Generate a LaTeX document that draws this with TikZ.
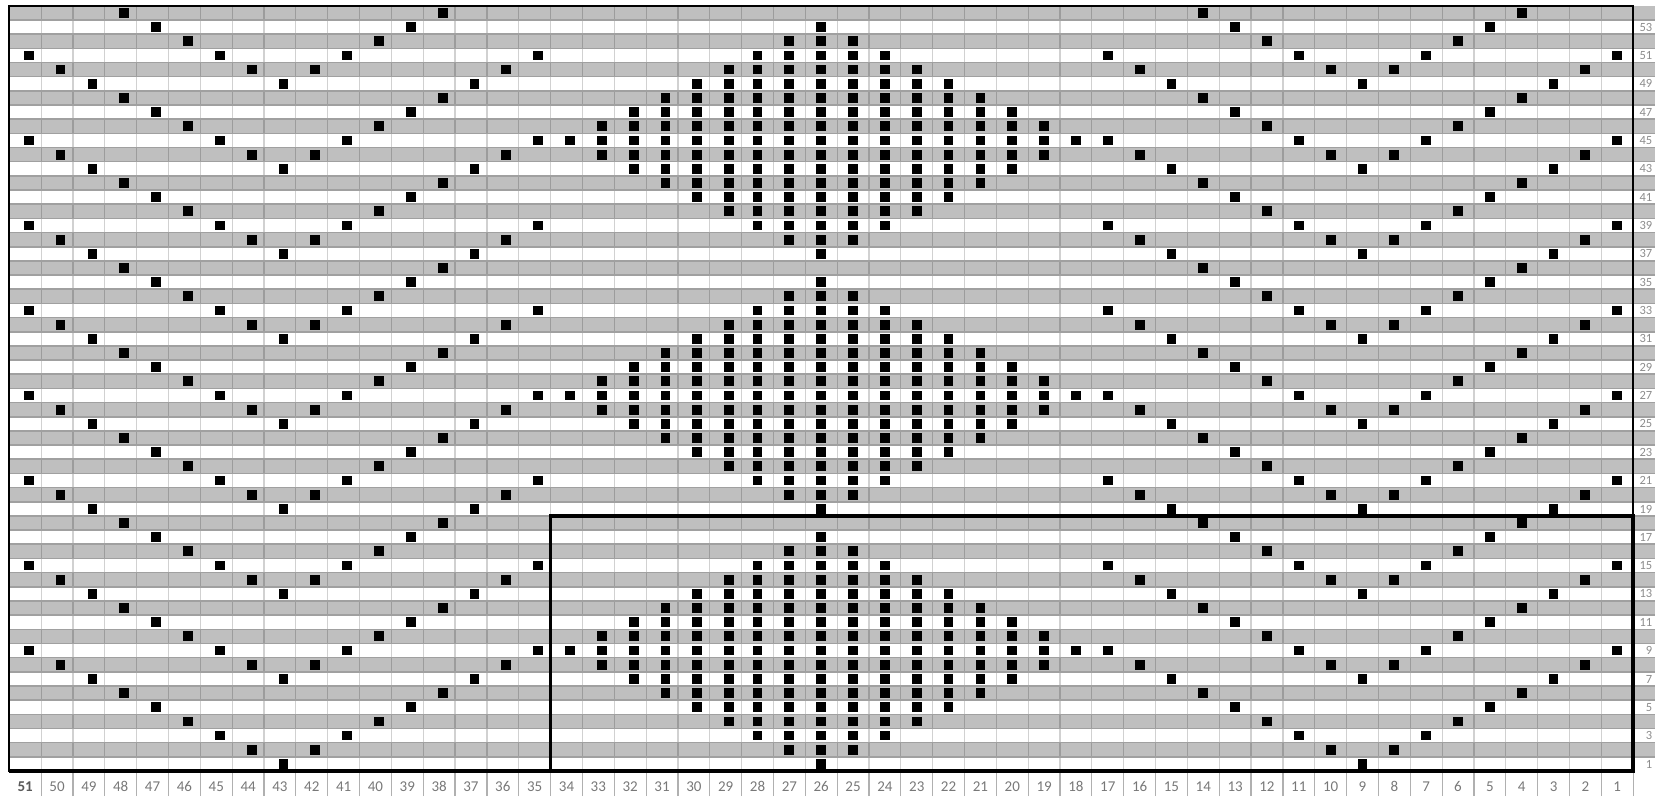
\documentclass[tikz,border=0pt]{standalone}
\usepackage{fontspec}
\setmainfont{Carlito}
\definecolor{rowGray}{RGB}{191,191,191}
\definecolor{lineGray}{RGB}{160,160,160}
\definecolor{sepGray}{RGB}{176,176,176}
\definecolor{labelGray}{RGB}{120,120,120}
\definecolor{labelDark}{RGB}{89,89,89}
\definecolor{numGray}{RGB}{140,140,140}
\def\cw{31.84}
\def\rh{14.17}
\def\xl{9.3}
\def\yb{25}

\begin{document}
\begin{tikzpicture}[x=1pt,y=1pt,
    evenrow/.style={fill=rowGray},
    vline/.style={black,opacity=0.18,line width=1.2pt},
    hline/.style={lineGray,line width=1.6pt},
    sepline/.style={sepGray,line width=1.2pt},
    stitch/.style={fill=black},
    frame/.style={black,line width=1.8pt},
    repeatbox/.style={black,line width=3.5pt},
    colnum/.style={text=labelGray,font=\fontsize{15}{18}\selectfont},
    rownum/.style={text=numGray,font=\fontsize{12.5}{14}\selectfont,anchor=south east,inner sep=0pt}]
  \useasboundingbox (0,0) rectangle (1655,796);
  \foreach \r in {2,4,...,54}
    \fill[evenrow] (\xl,{\yb+(\r-1)*\rh}) rectangle (1655,{\yb+\r*\rh});
  \foreach \i in {1,...,50}
    \draw[vline] ({\xl+\i*\cw},\yb) -- ({\xl+\i*\cw},{\yb+54*\rh});
  \foreach \r in {1,...,53}
    \draw[hline] (\xl,{\yb+\r*\rh}) -- (1655,{\yb+\r*\rh});
  % stitches
  \foreach \r in {1,...,54}{
    \foreach \c in {1,...,51}{
      \pgfmathtruncatemacro\blockd{ifthenelse(\c>34,abs(\c-43),abs(\c-9))}
      \pgfmathtruncatemacro\sidehit{and(mod(\blockd-\r+61,6)==0,\blockd<\r)}
      \pgfmathtruncatemacro\midhit{abs(\c-26)<=8-abs(mod(\r-1,18)-8)}
      \pgfmathtruncatemacro\hit{ifthenelse(and(\c>17,\c<35),\midhit,\sidehit)}
      \pgfmathsetmacro\nudge{ifthenelse(\c>28,3.5,0)}
      \ifnum\hit=1
        \fill[stitch] ({\xl+(51.5-\c)*\cw+\nudge-4.9},{\yb+(\r-0.5)*\rh-4.9}) rectangle ++(9.8,9.8);
      \fi
    }
  }
  \draw[frame] (\xl,\yb) rectangle ({\xl+51*\cw},{\yb+54*\rh});
  \draw[repeatbox] (\xl,\yb) -- ({\xl+17*\cw},\yb);
  \draw[repeatbox] ({\xl+17*\cw},\yb) rectangle ({\xl+51*\cw},{\yb+18*\rh});
  % numbers
  \foreach \i in {1,...,51}
    \draw[sepline] ({\xl+\i*\cw},0) -- ({\xl+\i*\cw},\yb-1.8);
  \foreach \c in {1,...,50}
    \node[colnum] (c\c) at ({\xl+(51.5-\c)*\cw},9.3) {\c};
  \node[colnum,text=labelDark,font=\fontsize{15}{18}\selectfont\bfseries] (c51) at ({\xl+0.5*\cw},9.3) {51};
  \foreach \r in {1,3,...,53}
    \node[rownum] (r\r) at (1652.5,{\yb+(\r-1)*\rh+2.7}) {\r};
\end{tikzpicture}
\end{document}
